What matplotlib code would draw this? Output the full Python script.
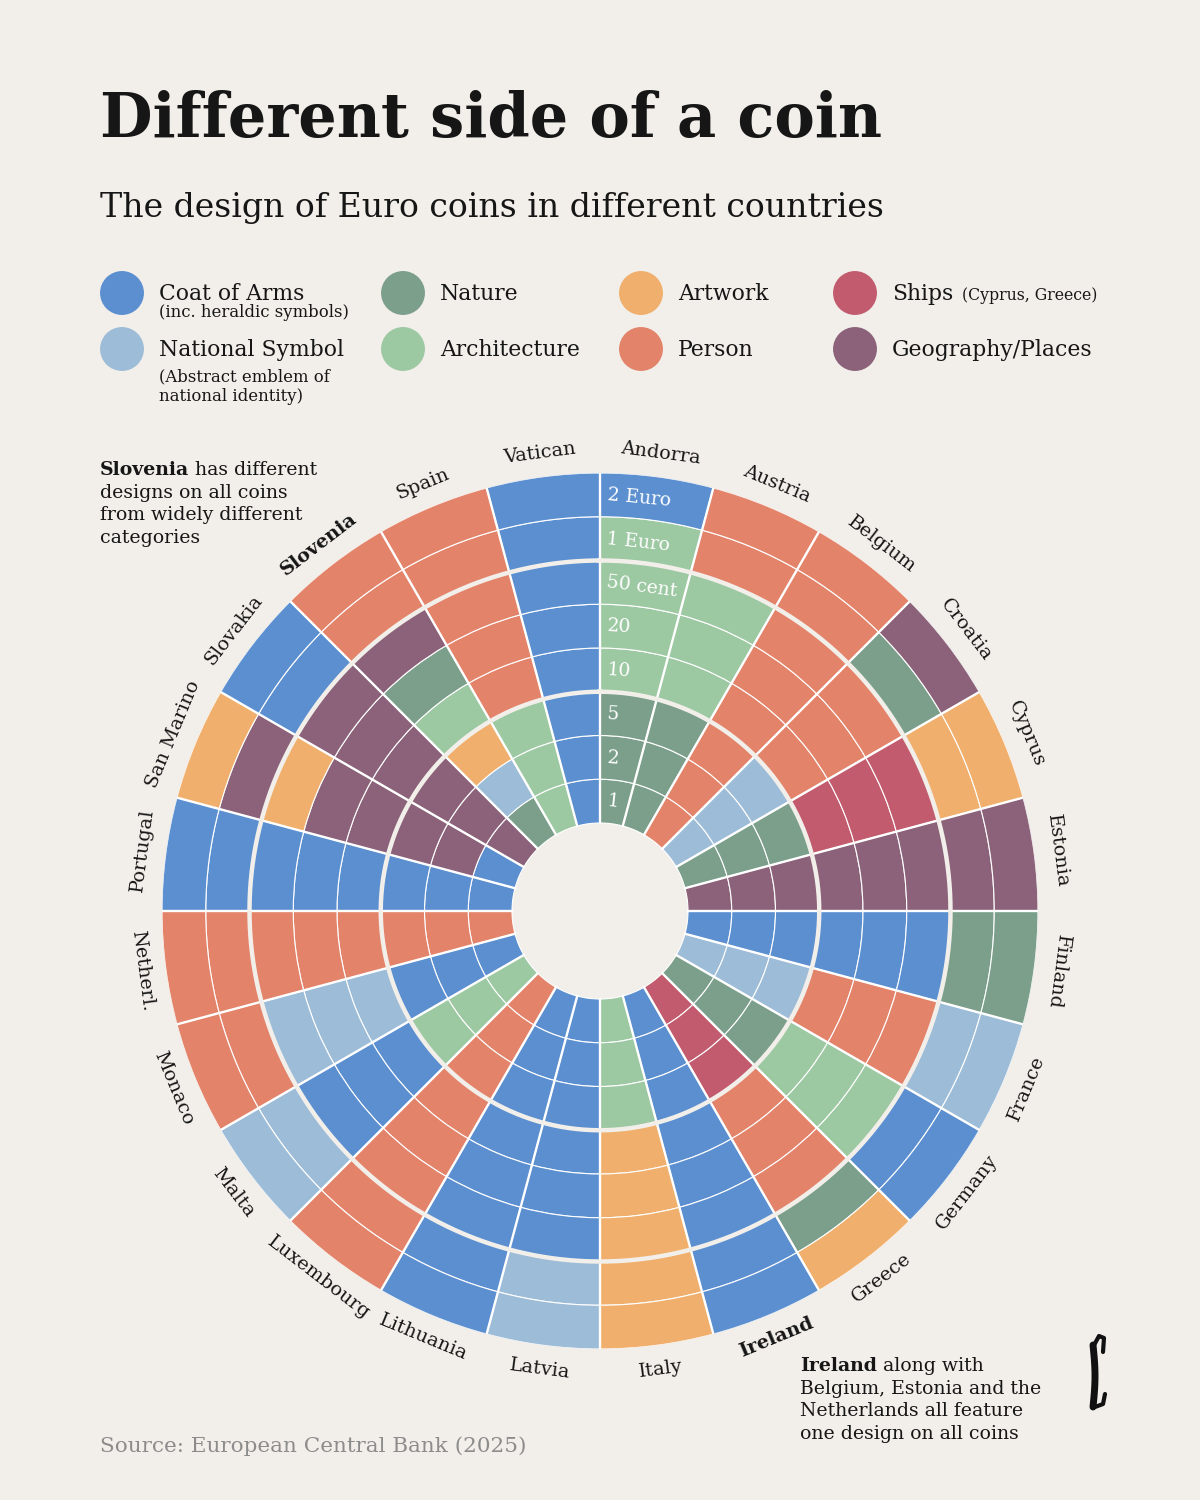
import numpy as np
import matplotlib
matplotlib.use("Agg")
import matplotlib.pyplot as plt

# ---- data -------------------------------------------------------------
countries = ["Andorra", "Austria", "Belgium", "Croatia", "Cyprus", "Estonia",
             "Finland", "France", "Germany", "Greece", "Ireland", "Italy",
             "Latvia", "Lithuania", "Luxembourg", "Malta", "Monaco", "Netherl.",
             "Portugal", "San Marino", "Slovakia", "Slovenia", "Spain", "Vatican"]
bold_countries = ["Slovenia", "Ireland"]

# coins from the centre outwards
denoms = ["1", "2", "5", "10", "20", "50 cent", "1 Euro", "2 Euro"]

# one letter per coin (1c ... 2 Euro), same order as countries
designs = ["NNNAAAAC", "NNNAAAPP", "PPPPPPPP", "SSSPPPNG", "NNNHHHWW",
           "GGGGGGGG", "CCCCCCNN", "SSSPPPSS", "NNNAAACC", "HHHPPPNW",
           "CCCCCCCC", "AAAWWWWW", "CCCCCCSS", "CCCCCCCC", "PPPPPPPP",
           "AAACCCSS", "CCCSSSPP", "PPPPPPPP", "CCCCCCCC", "CGGGGWGW",
           "GGGGGGCC", "NSWANGPP", "AAAPPPPP", "CCCCCCCC"]

cat_codes = ["C", "S", "N", "A", "W", "P", "H", "G"]
cat_names = ["Coat of Arms", "National Symbol", "Nature", "Architecture",
             "Artwork", "Person", "Ships", "Geography/Places"]
cat_notes = [["(inc. heraldic symbols)"], ["(Abstract emblem of", "national identity)"],
             [], [], [], [], ["(Cyprus, Greece)"], []]
cat_colors = ["#5b8fd0", "#9dbcd8", "#7b9f8b", "#9cc8a2",
              "#f0af6c", "#e3836a", "#c25b6d", "#8b6279"]

note_top = ["Slovenia has different", "designs on all coins",
            "from widely different", "categories"]
note_bottom = ["Ireland along with", "Belgium, Estonia and the",
               "Netherlands all feature", "one design on all coins"]

bg = "#f2efea"
ink = "#161616"
plt.rcParams['font.family'] = ['DejaVu Serif']

fig = plt.figure(figsize=(12, 15), dpi=100)
fig.patch.set_facecolor(bg)
renderer = fig.canvas.get_renderer()

# pixel axes for texts
axb = fig.add_axes([0, 0, 1, 1])
axb.set_xlim(0, 1200)
axb.set_ylim(1500, 0)
axb.axis("off")


def size_for(s, width, **kw):
    t = axb.text(0, 0, s, fontsize=20, **kw)
    w = t.get_window_extent(renderer).width
    t.remove()
    return 20 * width / w


def text_width(t):
    return t.get_window_extent(renderer).width


def note_block(x, y0, lines, bold_word, fs, gap=22.7):
    for k, line in enumerate(lines):
        y = y0 + k * gap
        if k == 0 and line.startswith(bold_word):
            t = axb.text(x, y, bold_word, fontweight="bold", fontsize=fs, color=ink,
                         va="baseline")
            axb.text(x + text_width(t), y, line[len(bold_word):], fontsize=fs,
                     color=ink, va="baseline")
        else:
            axb.text(x, y, line, fontsize=fs, color=ink, va="baseline")


# ---- title block -------------------------------------------------------
axb.text(100, 137, "Different side of a coin", color=ink, fontweight="bold",
         fontsize=size_for("Different side of a coin", 782, fontweight="bold"),
         va="baseline")
axb.text(100, 217, "The design of Euro coins in different countries", color=ink,
         fontsize=size_for("The design of Euro coins in different countries", 782),
         va="baseline")

# ---- legend ------------------------------------------------------------
leg_x = [122, 122, 403, 403, 641, 641, 855, 855]
leg_y = [293, 349, 293, 349, 293, 349, 293, 349]
fs_leg = size_for("Coat of Arms", 145)
fs_note = size_for("(inc. heraldic symbols)", 190)
for i, name in enumerate(cat_names):
    axb.scatter(leg_x[i], leg_y[i], s=1000, color=cat_colors[i], edgecolor="none")
    t = axb.text(leg_x[i] + 37, leg_y[i] + 7, name, fontsize=fs_leg, color=ink,
                 va="baseline")
    if name == "Ships":
        axb.text(leg_x[i] + 37 + text_width(t) + 9, leg_y[i] + 7, cat_notes[i][0],
                 fontsize=fs_note * 0.95, color=ink, va="baseline")
    elif i == 0:
        axb.text(leg_x[i] + 37, leg_y[i] + 24, cat_notes[i][0], fontsize=fs_note,
                 color=ink, va="baseline")
    elif i == 1:
        for k, line in enumerate(cat_notes[i]):
            axb.text(leg_x[i] + 37, leg_y[i] + 32 + k * 20, line, fontsize=fs_note,
                     color=ink, va="baseline")

# ---- radial chart --------------------------------------------------------
cx, cy, R = 600, 911, 438
r0 = 88
ring_h = (R - r0) / len(denoms)
ax = fig.add_axes([(cx - R) / 1200, (1500 - cy - R) / 1500, 2 * R / 1200, 2 * R / 1500],
                  projection="polar")
ax.set_theta_zero_location("N")
ax.set_theta_direction(-1)
ax.set_ylim(0, R)
ax.patch.set_alpha(0)
ax.axis("off")

n = len(countries)
step = 2 * np.pi / n
color_of = dict(zip(cat_codes, cat_colors))
for i, code in enumerate(designs):
    th = (i + 0.5) * step
    for j, c in enumerate(code):
        ax.bar(th, ring_h, width=step, bottom=r0 + j * ring_h, color=color_of[c],
               edgecolor="white", linewidth=0.8, align="center")

for i in range(n):
    ax.plot([i * step, i * step], [r0, R], color="white", lw=1.7)
circ = np.linspace(0, 2 * np.pi, 720)
for k in (3, 6):
    ax.plot(circ, np.full_like(circ, r0 + k * ring_h), color=bg, lw=3.2)

# country labels
fs_cty = size_for("Andorra", 80)
for i, name in enumerate(countries):
    deg = (i + 0.5) * 360 / n
    rot = 180 - deg if 100 < deg < 270 else -deg
    ax.text(np.radians(deg), 462, name, rotation=rot, rotation_mode="anchor",
            ha="center", va="center", fontsize=fs_cty, color=ink,
            fontweight="bold" if name in bold_countries else "normal",
            clip_on=False)

# denomination labels inside Andorra
fs_den = size_for("2 Euro", 64)
for j, d in enumerate(denoms):
    r = r0 + (j + 0.5) * ring_h
    w = 10.5 * len(d)
    rot = -np.degrees(np.arcsin((7 + w / 2) / r))
    ax.text(np.arcsin(7 / r), r, d, rotation=rot, rotation_mode="anchor",
            ha="left", va="center", fontsize=fs_den, color="white", clip_on=False)

# ---- annotations ---------------------------------------------------------
fs_ann = size_for("designs on all coins", 187)
note_block(100, 475, note_top, "Slovenia", fs_ann)
note_block(800, 1371, note_bottom, "Ireland", fs_ann)

axb.text(100, 1452, "Source: European Central Bank (2025)", color="#8c8c8c",
         fontsize=size_for("Source: European Central Bank (2025)", 425), va="baseline")

# logo mark
yy = np.linspace(0, 1, 40)
axb.plot(1093 + 2 * np.sin(yy * np.pi), 1345 + 62 * yy, color="#111111", lw=5,
         solid_capstyle="round")
axb.plot([1093, 1099, 1104, 1103], [1347, 1336, 1338, 1352], color="#111111", lw=3,
         solid_capstyle="round")
axb.plot([1095, 1103, 1105], [1407, 1404, 1394], color="#111111", lw=3,
         solid_capstyle="round")

fig.savefig("out.png", dpi=100, facecolor=bg)
